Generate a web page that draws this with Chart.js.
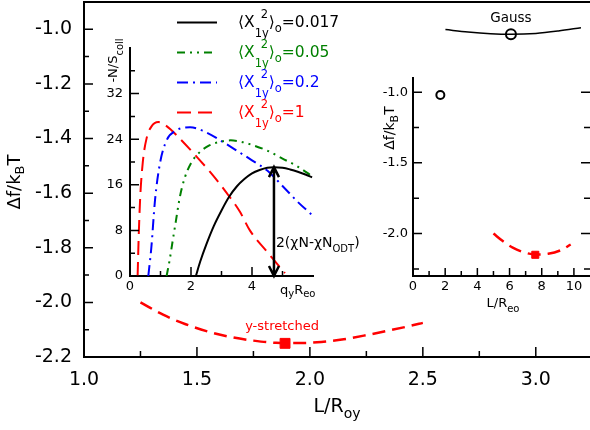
<!DOCTYPE html>
<html>
<head>
<meta charset="utf-8">
<script src="https://cdn.jsdelivr.net/npm/chart.js@4/dist/chart.umd.min.js"></script>
<style>
html, body { margin: 0; padding: 0; background: #fff; }
#wrap { position: relative; width: 590px; height: 430px; overflow: hidden; }
#wrap canvas { position: absolute; left: 0; top: 0; }
</style>
</head>
<body>
<div id="wrap">
  <canvas id="main" width="590" height="430"></canvas>
  <canvas id="ins1" width="590" height="430"></canvas>
  <canvas id="ins2" width="590" height="430"></canvas>
</div>
<script>
// main plot: free energy vs box length
const stretchL = [1.25, 1.35, 1.45, 1.55, 1.65, 1.75, 1.85, 1.95, 2.05, 2.15, 2.25, 2.35, 2.45, 2.5];
const stretchF = [-2.0, -2.045, -2.08, -2.107, -2.127, -2.14, -2.148, -2.149, -2.145, -2.135, -2.12, -2.103, -2.085, -2.075];
const stretchMin = [1.89, -2.15];
const gaussL = [2.6, 2.7, 2.8, 2.89, 3.0, 3.1, 3.2];
const gaussF = [-1.001, -1.01, -1.016, -1.018, -1.015, -1.006, -0.994];
const gaussMin = [2.89, -1.018];

const mainXTicks = [1.0, 1.25, 1.5, 1.75, 2.0, 2.25, 2.5, 2.75, 3.0];
const mainXLabels = [1.0, 1.5, 2.0, 2.5, 3.0];
const mainYTicks = [-2.2, -2.1, -2.0, -1.9, -1.8, -1.7, -1.6, -1.5, -1.4, -1.3, -1.2, -1.1, -1.0];
const mainYLabels = [-2.2, -2.0, -1.8, -1.6, -1.4, -1.2, -1.0];

// left inset: -N/S_coll vs q_y R_eo
const seriesNames = ['0.017', '0.05', '0.2', '1'];
const q017 = [2.16, 2.3, 2.5, 2.75, 3.0, 3.25, 3.5, 3.75, 4.0, 4.25, 4.5, 4.72, 5.0, 5.25, 5.5, 5.75, 5.97];
const s017 = [0, 2.5, 5.5, 8.8, 11.5, 13.9, 15.7, 17.0, 18.0, 18.6, 19.0, 19.1, 19.0, 18.7, 18.3, 17.8, 17.3];
const q005 = [1.2, 1.3, 1.4, 1.5, 1.64, 1.8, 2.0, 2.3, 2.6, 3.0, 3.3, 3.6, 4.0, 4.5, 5.0, 5.5, 5.97];
const s005 = [0, 2.8, 6.2, 9.5, 14.0, 17.3, 19.8, 21.8, 22.9, 23.6, 23.8, 23.6, 23.0, 22.0, 20.6, 19.2, 17.5];
const q02 = [0.6, 0.7, 0.82, 0.98, 1.2, 1.5, 1.97, 2.5, 3.05, 3.5, 4.0, 4.5, 5.0, 5.5, 5.97];
const s02 = [0, 5, 13.3, 19.7, 23.8, 25.5, 26.1, 25.2, 23.5, 22.0, 20.3, 18.5, 15.8, 13.0, 10.7];
const q1 = [0.25, 0.28, 0.33, 0.42, 0.55, 0.7, 0.93, 1.2, 1.6, 2.19, 2.7, 3.18, 3.6, 3.93, 4.5, 5.08];
const s1 = [0, 6, 13.3, 20, 24.3, 26.2, 27.0, 26.3, 24.3, 20.9, 17.8, 14.5, 11.3, 8.0, 4.2, 0.5];
const gapArrow = [4.72, 19.1, 0];

const in1XTicks = [0, 1, 2, 3, 4, 5];
const in1XLabels = [0, 2, 4];
const in1YTicks = [0, 4, 8, 12, 16, 20, 24, 28, 32, 36];
const in1YLabels = [0, 8, 16, 24, 32];

// right inset: same curves vs L/R_eo
const inStretchL = [5.0, 5.6, 6.2, 7.0, 7.6, 8.4, 9.2, 9.8];
const inStretchF = [-2.0, -2.055, -2.10, -2.136, -2.148, -2.143, -2.117, -2.077];
const inStretchMin = [7.6, -2.15];
const inGauss = [1.7, -1.02];

const in2XTicks = [0, 1, 2, 3, 4, 5, 6, 7, 8, 9, 10];
const in2XLabels = [0, 2, 4, 6, 8, 10];
const in2YTicks = [-2.25, -2.0, -1.75, -1.5, -1.25, -1.0];
const in2YLabels = [-2.0, -1.5, -1.0];

const FONT = '"DejaVu Sans"';
const styles = [
  {color: '#000000', dash: []},
  {color: '#008000', dash: [8, 5, 2, 5, 2, 5]},
  {color: '#0000ff', dash: [11, 5, 2, 5]},
  {color: '#ff0000', dash: [14, 7]}
];

const pts = (xs, ys) => xs.map((x, i) => ({x, y: ys[i]}));

// text with sub/superscripts, y is the baseline
function rich(ctx, parts, x, y, o) {
  const F = s => s + 'px ' + FONT;
  ctx.save();
  ctx.translate(x, y);
  if (o.rot) ctx.rotate(o.rot);
  ctx.fillStyle = o.color || '#000';
  ctx.textBaseline = 'alphabetic';
  ctx.textAlign = 'left';
  let total = 0;
  const items = parts.map(p => {
    let w;
    if (typeof p === 'string') {
      ctx.font = F(o.size);
      w = ctx.measureText(p).width;
    } else {
      ctx.font = F(o.small);
      w = Math.max(p.sub ? ctx.measureText(p.sub).width : 0,
                   p.sup ? ctx.measureText(p.sup).width + (p.supDx || 0) : 0);
    }
    total += w;
    return {p, w};
  });
  let cx = o.align === 'center' ? -total / 2 : 0;
  items.forEach(({p, w}) => {
    if (typeof p === 'string') {
      ctx.font = F(o.size);
      ctx.fillText(p, cx, 0);
    } else {
      ctx.font = F(o.small);
      if (p.sub) ctx.fillText(p.sub, cx, p.subDy != null ? p.subDy : o.subDy);
      if (p.sup) ctx.fillText(p.sup, cx + (p.supDx || 0), -(p.supDy || 9));
    }
    cx += w;
  });
  ctx.restore();
}

function axis(o) {
  return {
    type: 'linear', bounds: 'data', min: o.min, max: o.max,
    border: {display: true, color: '#000', width: 2},
    grid: {display: false, drawTicks: false},
    afterBuildTicks: s => { s.ticks = o.ticks.map(v => ({value: v})); },
    afterFit: s => {
      if (o.width != null) s.width = o.width;
      if (o.height != null) s.height = o.height;
      s.paddingTop = s.paddingBottom = s.paddingLeft = s.paddingRight = 0;
    },
    ticks: {
      autoSkip: false, maxRotation: 0, minRotation: 0, padding: o.pad, color: '#000',
      font: {family: 'DejaVu Sans', size: o.size},
      callback: v => o.labels.includes(v) ? o.fmt(v) : ''
    }
  };
}

// inward tick marks + extra drawing
function frame(cfg) {
  return {
    id: 'frame',
    afterDatasetsDraw(chart) {
      const {ctx, chartArea: a, scales: {x, y}} = chart;
      ctx.save();
      ctx.strokeStyle = '#000';
      ctx.lineWidth = 1.5;
      ctx.beginPath();
      x.ticks.forEach(t => {
        const p = x.getPixelForValue(t.value);
        const len = cfg.xMajor.includes(t.value) ? cfg.xLong : cfg.xShort;
        ctx.moveTo(p, a.bottom); ctx.lineTo(p, a.bottom - len);
      });
      y.ticks.forEach(t => {
        const p = y.getPixelForValue(t.value);
        const len = cfg.yMajor.includes(t.value) ? cfg.yLong : cfg.yShort;
        ctx.moveTo(a.left, p); ctx.lineTo(a.left + len, p);
        if (cfg.mirror) { ctx.moveTo(a.right, p); ctx.lineTo(a.right - len, p); }
      });
      ctx.stroke();
      if (cfg.top) {
        ctx.lineWidth = 2;
        ctx.beginPath();
        ctx.moveTo(a.left, a.top); ctx.lineTo(a.right, a.top);
        ctx.stroke();
      }
      if (cfg.extra) cfg.extra(chart, ctx);
      ctx.restore();
    }
  };
}

const base = {
  responsive: false, devicePixelRatio: 1, animation: false,
  plugins: {legend: {display: false}, tooltip: {enabled: false}}
};

// ---------- main chart
new Chart(document.getElementById('main'), {
  type: 'scatter',
  data: {
    datasets: [
      {data: pts(stretchL, stretchF), showLine: true, borderColor: '#ff0000', borderWidth: 2.5,
       borderDash: [13, 7], pointRadius: 0, cubicInterpolationMode: 'monotone'},
      {data: pts(gaussL, gaussF), showLine: true, borderColor: '#000', borderWidth: 1.5,
       pointRadius: 0, cubicInterpolationMode: 'monotone'},
      {data: [{x: stretchMin[0], y: stretchMin[1]}], pointStyle: 'rect', pointRadius: 7,
       backgroundColor: '#ff0000', borderColor: '#ff0000', borderWidth: 1},
      {data: [{x: gaussMin[0], y: gaussMin[1]}], pointStyle: 'circle', pointRadius: 5,
       backgroundColor: '#fff', borderColor: '#000', borderWidth: 2}
    ]
  },
  options: Object.assign({}, base, {
    layout: {autoPadding: false, padding: {left: 0, top: 2, right: 0, bottom: 0}},
    scales: {
      x: axis({min: 1.0, max: 3.24, ticks: mainXTicks, labels: mainXLabels, fmt: v => v.toFixed(1),
               height: 73, pad: 12, size: 19}),
      y: axis({min: -2.2, max: -0.9, ticks: mainYTicks, labels: mainYLabels, fmt: v => v.toFixed(1),
               width: 84, pad: 12, size: 19})
    }
  }),
  plugins: [frame({
    xMajor: mainXLabels, yMajor: mainYLabels, xLong: 10, xShort: 6, yLong: 9, yShort: 5, top: true,
    extra(chart, ctx) {
      const {x, y} = chart.scales;
      rich(ctx, ['Δf/k', {sub: 'B'}, 'T'], 20, 182, {size: 18, small: 13, subDy: 4, align: 'center', rot: -Math.PI / 2});
      rich(ctx, ['L/R', {sub: 'oy'}], 337, 412, {size: 19, small: 14, subDy: 6, align: 'center'});
      rich(ctx, ['y-stretched'], x.getPixelForValue(stretchMin[0]) - 3, y.getPixelForValue(stretchMin[1]) - 13,
           {size: 13, align: 'center', color: '#ff0000'});
      rich(ctx, ['Gauss'], x.getPixelForValue(gaussMin[0]), y.getPixelForValue(gaussMin[1]) - 12,
           {size: 13.5, align: 'center'});
    }
  })]
});

// ---------- left inset
const curves = [pts(q017, s017), pts(q005, s005), pts(q02, s02), pts(q1, s1)];
new Chart(document.getElementById('ins1'), {
  type: 'scatter',
  data: {
    datasets: curves.map((d, i) => ({
      data: d, showLine: true, borderColor: styles[i].color, borderDash: styles[i].dash,
      borderWidth: 2, pointRadius: 0, cubicInterpolationMode: 'monotone'
    }))
  },
  options: Object.assign({}, base, {
    layout: {autoPadding: false, padding: {left: 0, top: 48, right: 277, bottom: 0}},
    scales: {
      x: axis({min: 0, max: 6, ticks: in1XTicks, labels: in1XLabels, fmt: v => String(v),
               height: 154, pad: 3, size: 13}),
      y: axis({min: 0, max: 40, ticks: in1YTicks, labels: in1YLabels, fmt: v => String(v),
               width: 130, pad: 7, size: 13})
    }
  }),
  plugins: [frame({
    xMajor: in1XLabels, yMajor: in1YLabels, xLong: 9, xShort: 5, yLong: 9, yShort: 5,
    extra(chart, ctx) {
      const {x, y} = chart.scales;
      // double arrow
      const ax = x.getPixelForValue(gapArrow[0]);
      const at = y.getPixelForValue(gapArrow[1]);
      const ab = y.getPixelForValue(gapArrow[2]);
      ctx.strokeStyle = '#000';
      ctx.lineWidth = 2.5;
      ctx.beginPath();
      ctx.moveTo(ax, at); ctx.lineTo(ax, ab);
      ctx.moveTo(ax - 5, at + 10); ctx.lineTo(ax, at); ctx.lineTo(ax + 5, at + 10);
      ctx.moveTo(ax - 5, ab - 10); ctx.lineTo(ax, ab); ctx.lineTo(ax + 5, ab - 10);
      ctx.stroke();
      rich(ctx, ['2(χN-χN', {sub: 'ODT'}, ')'], ax + 2, 246.5, {size: 14, small: 10, subDy: 5});
      rich(ctx, ['-N/S', {sub: 'coll'}], 117, 60.5, {size: 13, small: 10, subDy: 6, align: 'center', rot: -Math.PI / 2});
      rich(ctx, ['q', {sub: 'y'}, 'R', {sub: 'eo'}], 280, 294, {size: 13, small: 10, subDy: 3});
      // legend
      seriesNames.forEach((name, i) => {
        const by = 27 + 30 * i;
        ctx.strokeStyle = styles[i].color;
        ctx.lineWidth = 2;
        ctx.setLineDash(styles[i].dash);
        ctx.beginPath();
        ctx.moveTo(177, by - 4.5); ctx.lineTo(217, by - 4.5);
        ctx.stroke();
        ctx.setLineDash([]);
        rich(ctx, ['⟨X', {sub: '1y', sup: '2', supDx: 6, subDy: 9.5, supDy: 9}, '⟩', {sub: 'o', subDy: 5}, '=' + name],
             238, by, {size: 15.5, small: 11.5, color: styles[i].color});
      });
    }
  })]
});

// ---------- right inset
new Chart(document.getElementById('ins2'), {
  type: 'scatter',
  data: {
    datasets: [
      {data: pts(inStretchL, inStretchF), showLine: true, borderColor: '#ff0000', borderWidth: 2.5,
       borderDash: [13, 7], pointRadius: 0, cubicInterpolationMode: 'monotone'},
      {data: [{x: inStretchMin[0], y: inStretchMin[1]}], pointStyle: 'rect', pointRadius: 5,
       backgroundColor: '#ff0000', borderColor: '#ff0000', borderWidth: 1},
      {data: [{x: inGauss[0], y: inGauss[1]}], pointStyle: 'circle', pointRadius: 4,
       backgroundColor: '#fff', borderColor: '#000', borderWidth: 2}
    ]
  },
  options: Object.assign({}, base, {
    layout: {autoPadding: false, padding: {left: 0, top: 78, right: 0, bottom: 0}},
    scales: {
      x: axis({min: 0, max: 11, ticks: in2XTicks, labels: in2XLabels, fmt: v => String(v),
               height: 154, pad: 3, size: 13}),
      y: axis({min: -2.3, max: -0.9, ticks: in2YTicks, labels: in2YLabels, fmt: v => v.toFixed(1),
               width: 413, pad: 5, size: 13})
    }
  }),
  plugins: [frame({
    xMajor: in2XLabels, yMajor: in2YLabels, xLong: 8, xShort: 5, yLong: 9, yShort: 6, mirror: true,
    extra(chart, ctx) {
      rich(ctx, ['Δf/k', {sub: 'B'}, 'T'], 394, 128, {size: 14, small: 11, subDy: 4, align: 'center', rot: -Math.PI / 2});
      rich(ctx, ['L/R', {sub: 'eo'}], 503, 307, {size: 13, small: 10, subDy: 5, align: 'center'});
    }
  })]
});
</script>
</body>
</html>
